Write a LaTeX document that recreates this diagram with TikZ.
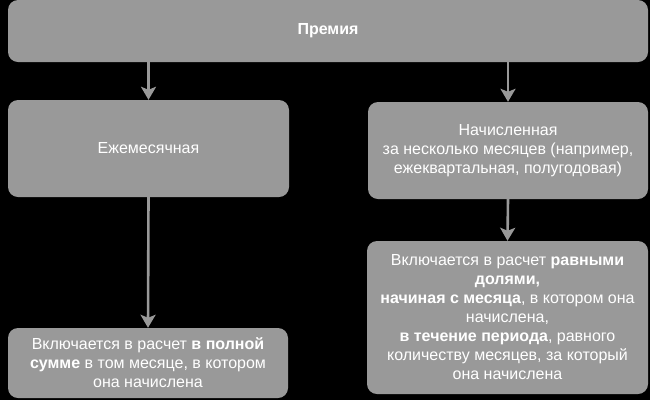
\documentclass[tikz,border=0pt]{standalone}
\usepackage{fontspec}
\setmainfont{Liberation Sans}
\usetikzlibrary{arrows.meta}
\definecolor{boxgray}{HTML}{999999}
\tikzset{
  box/.style={fill=boxgray, draw=none, rounded corners=10pt, text=white, align=center,
    font=\fontsize{16pt}{19pt}\selectfont, inner sep=0pt},
  arr/.style={draw=boxgray, line width=2.6pt, -{Stealth[length=13pt,width=15pt,inset=3pt]}}
}
\begin{document}
\begin{tikzpicture}[x=1pt,y=-1pt]
\fill[black] (0,0) rectangle (650,400);
\useasboundingbox (0,0) rectangle (650,400);
\node[box, minimum width=640pt, minimum height=62pt] (top) at (328,31) {\textbf{Премия}};
\node[box, minimum width=281pt, minimum height=97pt] (left) at (148.5,148.5) {Ежемесячная};
\node[box, minimum width=280pt, minimum height=97pt] (right) at (508,150.5)
  {Начисленная\\за несколько месяцев (например,\\ежеквартальная, полугодовая)};
\node[box, minimum width=280pt, minimum height=70pt] (bl) at (148,363)
  {Включается в расчет \textbf{в полной}\\\textbf{сумме} в том месяце, в котором\\она начислена};
\node[box, minimum width=281pt, minimum height=153pt] (br) at (507.5,317.5)
  {Включается в расчет \textbf{равными}\\\textbf{долями,}\\\textbf{начиная с месяца}, в котором она\\начислена,\\\textbf{в течение периода}, равного\\количеству месяцев, за который\\она начислена};
\draw[arr] (left.north |- top.south) -- (left.north);
\draw[arr] (right.north |- top.south) -- (right.north);
\draw[arr] (left.south) -- (bl.north);
\draw[arr] (right.south) -- (br.north);
\end{tikzpicture}
\end{document}
